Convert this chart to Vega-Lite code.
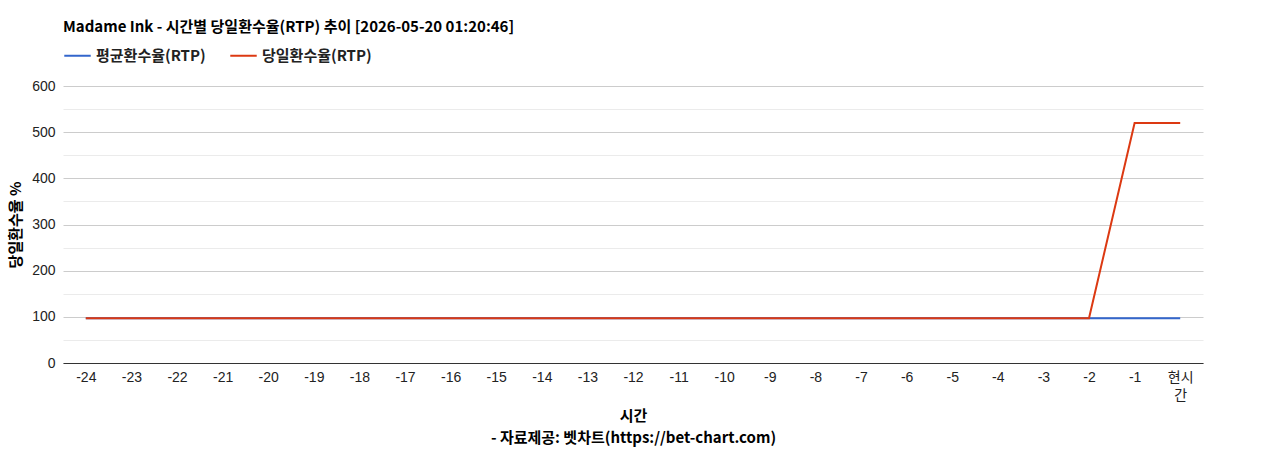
{
  "$schema": "https://vega.github.io/schema/vega-lite/v6.json",
  "autosize": {"type": "none"},
  "width": 1140,
  "height": 277,
  "padding": {"left": 63, "top": 86, "right": 65, "bottom": 87},
  "background": "white",
  "config": {
    "view": {"stroke": "transparent"},
    "font": "Liberation Sans"
  },
  "title": {
    "text": "Madame Ink - 시간별 당일환수율(RTP) 추이 [2026-05-20 01:20:46]",
    "anchor": "start",
    "frame": "group",
    "font": "Noto Sans CJK KR",
    "fontSize": 15,
    "fontWeight": "bold",
    "color": "#000000",
    "offset": 6
  },
  "data": {
    "values": [
      {"hour": "-24", "series": "평균환수율(RTP)", "rtp": 97},
      {"hour": "-23", "series": "평균환수율(RTP)", "rtp": 97},
      {"hour": "-22", "series": "평균환수율(RTP)", "rtp": 97},
      {"hour": "-21", "series": "평균환수율(RTP)", "rtp": 97},
      {"hour": "-20", "series": "평균환수율(RTP)", "rtp": 97},
      {"hour": "-19", "series": "평균환수율(RTP)", "rtp": 97},
      {"hour": "-18", "series": "평균환수율(RTP)", "rtp": 97},
      {"hour": "-17", "series": "평균환수율(RTP)", "rtp": 97},
      {"hour": "-16", "series": "평균환수율(RTP)", "rtp": 97},
      {"hour": "-15", "series": "평균환수율(RTP)", "rtp": 97},
      {"hour": "-14", "series": "평균환수율(RTP)", "rtp": 97},
      {"hour": "-13", "series": "평균환수율(RTP)", "rtp": 97},
      {"hour": "-12", "series": "평균환수율(RTP)", "rtp": 97},
      {"hour": "-11", "series": "평균환수율(RTP)", "rtp": 97},
      {"hour": "-10", "series": "평균환수율(RTP)", "rtp": 97},
      {"hour": "-9", "series": "평균환수율(RTP)", "rtp": 97},
      {"hour": "-8", "series": "평균환수율(RTP)", "rtp": 97},
      {"hour": "-7", "series": "평균환수율(RTP)", "rtp": 97},
      {"hour": "-6", "series": "평균환수율(RTP)", "rtp": 97},
      {"hour": "-5", "series": "평균환수율(RTP)", "rtp": 97},
      {"hour": "-4", "series": "평균환수율(RTP)", "rtp": 97},
      {"hour": "-3", "series": "평균환수율(RTP)", "rtp": 97},
      {"hour": "-2", "series": "평균환수율(RTP)", "rtp": 97},
      {"hour": "-1", "series": "평균환수율(RTP)", "rtp": 97},
      {"hour": "현시간", "series": "평균환수율(RTP)", "rtp": 97},
      {"hour": "-24", "series": "당일환수율(RTP)", "rtp": 97},
      {"hour": "-23", "series": "당일환수율(RTP)", "rtp": 97},
      {"hour": "-22", "series": "당일환수율(RTP)", "rtp": 97},
      {"hour": "-21", "series": "당일환수율(RTP)", "rtp": 97},
      {"hour": "-20", "series": "당일환수율(RTP)", "rtp": 97},
      {"hour": "-19", "series": "당일환수율(RTP)", "rtp": 97},
      {"hour": "-18", "series": "당일환수율(RTP)", "rtp": 97},
      {"hour": "-17", "series": "당일환수율(RTP)", "rtp": 97},
      {"hour": "-16", "series": "당일환수율(RTP)", "rtp": 97},
      {"hour": "-15", "series": "당일환수율(RTP)", "rtp": 97},
      {"hour": "-14", "series": "당일환수율(RTP)", "rtp": 97},
      {"hour": "-13", "series": "당일환수율(RTP)", "rtp": 97},
      {"hour": "-12", "series": "당일환수율(RTP)", "rtp": 97},
      {"hour": "-11", "series": "당일환수율(RTP)", "rtp": 97},
      {"hour": "-10", "series": "당일환수율(RTP)", "rtp": 97},
      {"hour": "-9", "series": "당일환수율(RTP)", "rtp": 97},
      {"hour": "-8", "series": "당일환수율(RTP)", "rtp": 97},
      {"hour": "-7", "series": "당일환수율(RTP)", "rtp": 97},
      {"hour": "-6", "series": "당일환수율(RTP)", "rtp": 97},
      {"hour": "-5", "series": "당일환수율(RTP)", "rtp": 97},
      {"hour": "-4", "series": "당일환수율(RTP)", "rtp": 97},
      {"hour": "-3", "series": "당일환수율(RTP)", "rtp": 97},
      {"hour": "-2", "series": "당일환수율(RTP)", "rtp": 97},
      {"hour": "-1", "series": "당일환수율(RTP)", "rtp": 520},
      {"hour": "현시간", "series": "당일환수율(RTP)", "rtp": 520}
    ]
  },
  "mark": {"type": "line", "strokeWidth": 2, "interpolate": "linear"},
  "encoding": {
    "x": {
      "field": "hour",
      "type": "ordinal",
      "sort": null,
      "scale": {"paddingInner": 1, "paddingOuter": 0.5},
      "axis": {
        "labelAngle": 0,
        "ticks": false,
        "domainColor": "#333333",
        "labelFont": "Liberation Sans, Noto Sans CJK KR",
        "labelFontSize": 14,
        "labelColor": "#222222",
        "labelPadding": 7,
        "labelExpr": "datum.label == '현시간' ? ['현시', '간'] : datum.label",
        "labelLineHeight": 18,
        "grid": false,
        "title": ["시간", "- 자료제공: 벳차트(https://bet-chart.com)"],
        "titleFont": "Noto Sans CJK KR",
        "titleFontSize": 15,
        "titleFontWeight": "bold",
        "titleColor": "#000000",
        "titleLineHeight": 22,
        "titlePadding": 6
      }
    },
    "y": {
      "field": "rtp",
      "type": "quantitative",
      "scale": {"domain": [0, 600], "nice": false},
      "axis": {
        "values": [0, 50, 100, 150, 200, 250, 300, 350, 400, 450, 500, 550, 600],
        "labelExpr": "datum.value % 100 === 0 ? datum.label : ''",
        "gridColor": {"condition": {"test": "datum.value % 100 === 0", "value": "#cccccc"}, "value": "#ebebeb"},
        "domain": false,
        "ticks": false,
        "labelFont": "Liberation Sans",
        "labelFontSize": 14,
        "labelColor": "#222222",
        "labelPadding": 8,
        "title": "당일환수율 %",
        "titleFont": "Noto Sans CJK KR",
        "titleFontSize": 15,
        "titleFontWeight": "bold",
        "titleColor": "#000000",
        "titlePadding": 8
      }
    },
    "color": {
      "field": "series",
      "type": "nominal",
      "sort": ["평균환수율(RTP)", "당일환수율(RTP)"],
      "scale": {"domain": ["평균환수율(RTP)", "당일환수율(RTP)"], "range": ["#3366cc", "#dc3912"]},
      "legend": {
        "orient": "top",
        "direction": "horizontal",
        "title": null,
        "symbolType": "stroke",
        "symbolSize": 700,
        "symbolStrokeWidth": 2,
        "labelFont": "Noto Sans CJK KR",
        "labelFontSize": 15,
        "labelFontWeight": "bold",
        "labelColor": "#222222",
        "columnPadding": 20,
        "offset": 22
      }
    },
    "order": {"field": "series", "sort": "descending"}
  }
}
